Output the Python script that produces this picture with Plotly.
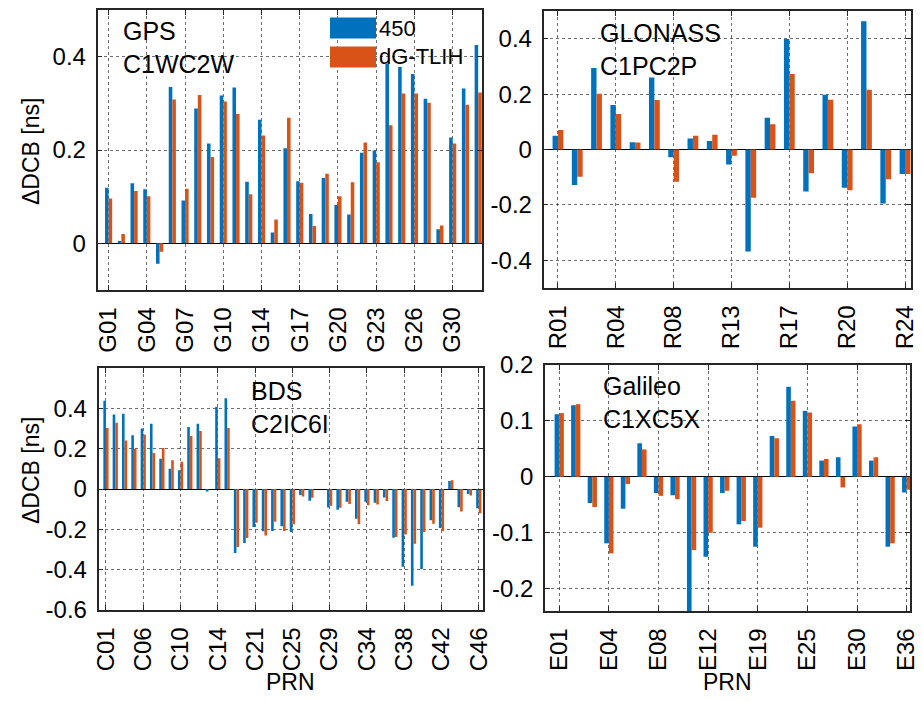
import plotly.graph_objects as go

# ---------------- data ----------------
gps_prn = ["G01","G02","G03","G04","G05","G06","G07","G08","G09","G10","G12","G13","G14","G15","G16",
           "G17","G18","G19","G20","G21","G22","G23","G24","G25","G26","G27","G29","G30","G31","G32"]
gps_450 = [0.119, 0.005, 0.129, 0.116, -0.044, 0.335, 0.092, 0.289, 0.214, 0.317, 0.334, 0.132, 0.265, 0.023, 0.204,
           0.133, 0.063, 0.140, 0.082, 0.062, 0.194, 0.199, 0.385, 0.378, 0.363, 0.310, 0.030, 0.227, 0.332, 0.425]
gps_dg = [0.096, 0.020, 0.112, 0.101, -0.018, 0.308, 0.117, 0.318, 0.185, 0.304, 0.277, 0.105, 0.231, 0.051, 0.269,
          0.130, 0.037, 0.149, 0.101, 0.131, 0.216, 0.174, 0.253, 0.321, 0.321, 0.301, 0.038, 0.214, 0.297, 0.323]

glo_prn = ["R01","R02","R03","R04","R05","R07","R08","R09","R11","R13","R14","R15","R17","R18","R19",
           "R20","R21","R22","R24"]
glo_450 = [0.050, -0.128, 0.294, 0.161, 0.026, 0.260, -0.028, 0.040, 0.031, -0.054, -0.368, 0.115, 0.399, -0.152,
           0.198, -0.138, 0.463, -0.195, -0.088]
glo_dg = [0.070, -0.098, 0.201, 0.128, 0.025, 0.179, -0.116, 0.050, 0.053, -0.023, -0.174, 0.091, 0.273, -0.086,
          0.180, -0.147, 0.216, -0.107, -0.088]

bds_prn = ["C01","C02","C03","C04","C06","C07","C08","C09","C10","C11","C12","C13","C14","C16","C19","C20",
           "C21","C22","C23","C24","C25","C26","C27","C28","C29","C30","C32","C33","C34","C35","C36","C37",
           "C38","C39","C40","C41","C42","C43","C44","C45","C46"]
bds_450 = [0.437, 0.370, 0.373, 0.267, 0.300, 0.323, 0.150, 0.100, 0.093, 0.308, 0.323, -0.013, 0.407, 0.450,
           -0.317, -0.268, -0.188, -0.210, -0.208, -0.185, -0.213, -0.030, -0.058, None, -0.092, -0.103, -0.063,
           -0.147, -0.063, -0.068, -0.042, -0.242, -0.385, -0.480, -0.397, -0.155, -0.194, 0.040, -0.091, -0.025,
           -0.095]
bds_dg = [0.303, 0.328, 0.240, 0.200, 0.270, 0.178, 0.203, 0.142, 0.135, 0.263, 0.287, 0.0, 0.153, 0.303,
          -0.288, -0.243, -0.167, -0.230, -0.163, -0.208, -0.175, -0.037, -0.043, None, -0.083, -0.093, -0.075,
          -0.175, -0.080, -0.077, -0.060, -0.238, -0.225, -0.272, -0.213, -0.172, -0.208, 0.043, -0.112, -0.032,
          -0.120]

gal_prn = ["E01","E02","E03","E04","E05","E07","E08","E09","E11","E12","E13","E15","E19","E21","E24","E25",
           "E26","E27","E30","E31","E33","E36"]
gal_450 = [0.112, 0.128, -0.047, -0.119, -0.057, 0.060, -0.029, -0.033, -0.260, -0.143, -0.029, -0.085, -0.125,
           0.073, 0.161, 0.118, 0.029, 0.035, 0.090, 0.029, -0.125, -0.028]
gal_dg = [0.114, 0.130, -0.054, -0.137, -0.013, 0.049, -0.034, -0.040, -0.131, -0.100, -0.025, -0.079, -0.091,
          0.069, 0.136, 0.115, 0.032, -0.019, 0.094, 0.035, -0.119, -0.023]

series_names = ["450", "dG-TLIH"]
panel_titles = ["GPS<br>C1WC2W", "GLONASS<br>C1PC2P", "BDS<br>C2IC6I", "Galileo<br>C1XC5X"]
y_title = "ΔDCB [ns]"
x_title = "PRN"

# ---------------- style ----------------
W, H = 923, 701
BLUE = "#0072BD"
ORANGE = "#D95319"
FONT = "Liberation Sans, Arial, sans-serif"
TXT = "#000000"
AX = "#262626"

def px_x(p):
    return p / W

def px_y(p):
    return 1 - p / H

panels = [
    dict(prn=gps_prn, a=gps_450, b=gps_dg, xd=(97.5, 482), yd=(10, 290), xr=(0.13, 30.3), yr=(-0.1, 0.5),
         step=3, yt=[0, 0.2, 0.4]),
    dict(prn=glo_prn, a=glo_450, b=glo_dg, xd=(543.5, 911), yd=(11, 288), xr=(0.25, 19.31), yr=(-0.5, 0.5),
         step=3, yt=[-0.4, -0.2, 0, 0.2, 0.4]),
    dict(prn=bds_prn, a=bds_450, b=bds_dg, xd=(98.5, 482.5), yd=(368, 610), xr=(0.2, 41.4), yr=(-0.6, 0.6),
         step=4, yt=[-0.6, -0.4, -0.2, 0, 0.2, 0.4]),
    dict(prn=gal_prn, a=gal_450, b=gal_dg, xd=(545, 910), yd=(365, 611), xr=(0.14, 22.2), yr=(-0.24, 0.2),
         step=3, yt=[-0.2, -0.1, 0, 0.1, 0.2]),
]

fig = go.Figure()
layout = {}
for i, p in enumerate(panels):
    k = "" if i == 0 else str(i + 1)
    xs = list(range(1, len(p["prn"]) + 1))
    fig.add_trace(go.Bar(x=xs, y=p["a"], name=series_names[0], marker=dict(color=BLUE, line=dict(width=0)),
                         xaxis="x" + k, yaxis="y" + k, showlegend=False, offsetgroup="a"))
    fig.add_trace(go.Bar(x=xs, y=p["b"], name=series_names[1], marker=dict(color=ORANGE, line=dict(width=0)),
                         xaxis="x" + k, yaxis="y" + k, showlegend=False, offsetgroup="b"))
    tv = xs[::p["step"]]
    tt = [p["prn"][j - 1] for j in tv]
    layout["xaxis" + k] = dict(
        domain=[px_x(p["xd"][0]), px_x(p["xd"][1])], range=list(p["xr"]), anchor="y" + k,
        tickmode="array", tickvals=tv, ticktext=tt, tickangle=-90, automargin=False,
        showline=True, linecolor=AX, linewidth=1.5, mirror="ticks",
        ticks="inside", ticklen=5, tickcolor=AX, tickwidth=1,
        showgrid=True, gridcolor="rgba(60,60,60,0.75)", griddash="dot", gridwidth=1,
        zeroline=False, ticklabelstandoff=6,
        tickfont=dict(family=FONT, size=24, color=TXT),
    )
    layout["yaxis" + k] = dict(
        domain=[px_y(p["yd"][1]), px_y(p["yd"][0])], range=list(p["yr"]), anchor="x" + k,
        tickmode="array", tickvals=p["yt"], ticktext=[("%g" % v) for v in p["yt"]], automargin=False,
        showline=True, linecolor=AX, linewidth=1.5, mirror="ticks",
        ticks="inside", ticklen=5, tickcolor=AX, tickwidth=1,
        showgrid=True, gridcolor="rgba(60,60,60,0.75)", griddash="dot", gridwidth=1,
        zeroline=True, zerolinecolor="#000000", zerolinewidth=1.2,
        ticklabelstandoff=5,
        tickfont=dict(family=FONT, size=24, color=TXT),
    )

annotations = []
name_pos = [(121, 47), (598, 50), (249, 407), (601, 402)]
for t, (x, y) in zip(panel_titles, name_pos):
    annotations.append(dict(text=t, x=px_x(x), y=px_y(y), xref="paper", yref="paper", xanchor="left",
                            yanchor="middle", align="left", showarrow=False,
                            font=dict(family=FONT, size=25, color=TXT)))
for yc in (151, 470):
    annotations.append(dict(text=y_title, x=px_x(31), y=px_y(yc), xref="paper", yref="paper", textangle=-90,
                            xanchor="center", yanchor="middle", showarrow=False,
                            font=dict(family=FONT, size=23, color=TXT)))
for xc in (290, 727):
    annotations.append(dict(text=x_title, x=px_x(xc), y=px_y(682), xref="paper", yref="paper",
                            xanchor="center", yanchor="middle", showarrow=False,
                            font=dict(family=FONT, size=23, color=TXT)))

shapes = []
leg_rows = [(BLUE, series_names[0], 17.5, 38.5), (ORANGE, series_names[1], 46.5, 67.5)]
for col, name, y0, y1 in leg_rows:
    shapes.append(dict(type="rect", xref="paper", yref="paper", x0=px_x(330), x1=px_x(376),
                       y0=px_y(y1), y1=px_y(y0), fillcolor=col, line=dict(width=0), layer="above"))
    annotations.append(dict(text=name, x=px_x(377), y=px_y((y0 + y1) / 2), xref="paper", yref="paper",
                            xanchor="left", yanchor="middle", showarrow=False,
                            font=dict(family=FONT, size=22, color=TXT)))

fig.update_layout(
    width=W, height=H, margin=dict(l=0, r=0, t=0, b=0, autoexpand=False),
    paper_bgcolor="white", plot_bgcolor="white",
    barmode="group", bargap=0.44, bargroupgap=0.0,
    showlegend=False, annotations=annotations, shapes=shapes,
    **layout,
)

fig.write_html("out.html")
